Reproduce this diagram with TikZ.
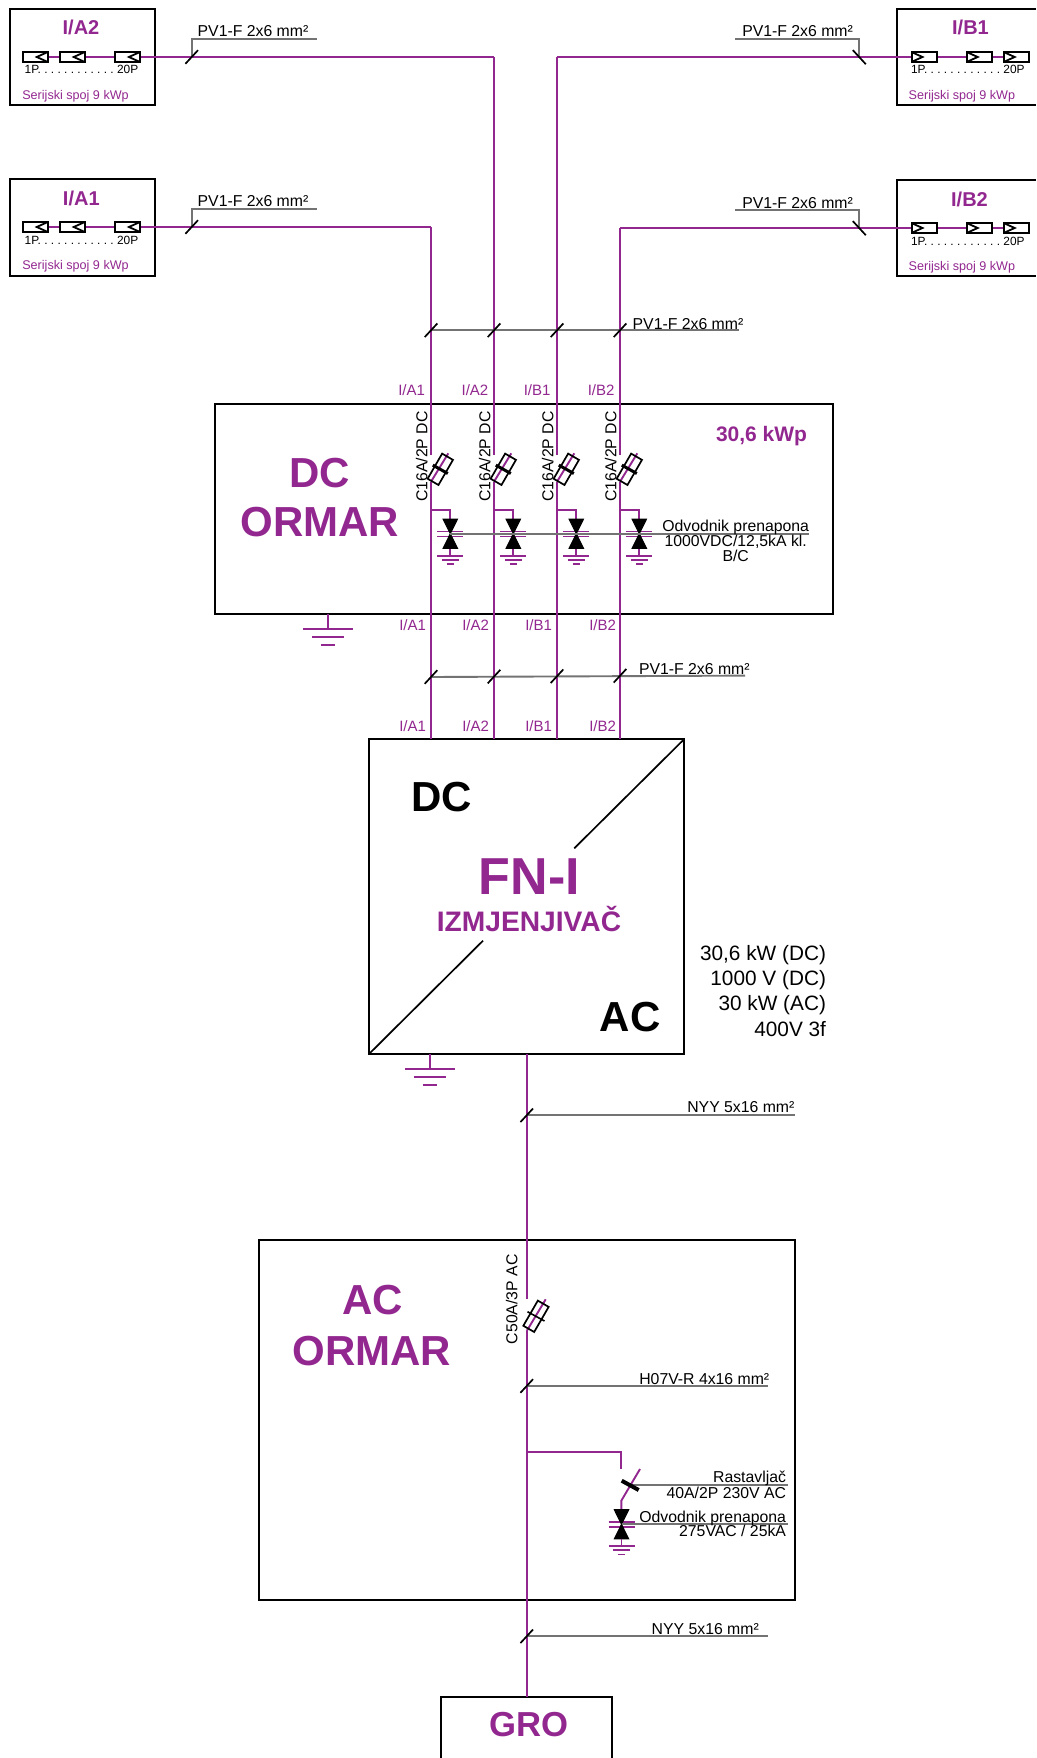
\documentclass[tikz,border=0pt]{standalone}
\usepackage{fontspec}
\setmainfont{Liberation Sans}
\definecolor{pv}{HTML}{92278F}
\definecolor{gl}{HTML}{737373}
\frenchspacing
\newcommand\fsz[1]{\fontsize{#1}{#1}\selectfont}
\tikzset{
  wire/.style={draw=pv,line width=1.9pt},
  gline/.style={draw=gl,line width=1.9pt},
  tickmark/.style={draw=black,line width=1.7pt},
  boxn/.style={draw=black,line width=2pt,inner sep=0pt,outer sep=0pt},
  panel/.style={draw=black,fill=white,line width=2pt,inner sep=0pt,outer sep=0pt,minimum width=25.3pt,minimum height=10.6pt},
  fuseb/.style={draw=black,line width=1.7pt,inner sep=0pt,outer sep=0pt,minimum width=29pt,minimum height=12.5pt,rotate=60},
  lab/.style={inner sep=0pt,outer sep=0pt,text=black,font=\fsz{15.8}},
  plab/.style={inner sep=0pt,outer sep=0pt,text=pv,font=\fsz{15}},
  ptitle/.style={inner sep=0pt,outer sep=0pt,text=pv,font=\bfseries\fsz{20}},
  big/.style={inner sep=0pt,outer sep=0pt,text=pv,font=\bfseries\fsz{42}},
  bigk/.style={inner sep=0pt,outer sep=0pt,text=black,font=\bfseries\fsz{42}},
  smalll/.style={inner sep=0pt,outer sep=0pt,text=black,font=\fsz{11.9}},
  ser/.style={inner sep=0pt,outer sep=0pt,text=pv,font=\fsz{12.6}},
}
\newcommand\boxat[5]{\node[boxn,minimum width={(#4-#2)*1pt},minimum height={(#5-#3)*1pt}] (#1) at ({(#2+#4)/2},{(#3+#5)/2}) {};}
\newcommand\tickf[1]{\draw[tickmark] ([shift={(-6.3,6.8)}]#1) -- ([shift={(6.3,-6.8)}]#1);}
\newcommand\tickb[1]{\draw[tickmark] ([shift={(-6.5,-6.9)}]#1) -- ([shift={(6.5,7.2)}]#1);}
% ground symbol: x, y of top bar, scale, line width
\newcommand\gndmark[4]{%
 \draw[draw=pv,line width=#4] ({#1-25*#3},#2) -- ({#1+25*#3},#2);
 \draw[draw=pv,line width=#4] ({#1-15.8*#3},{#2+8*#3}) -- ({#1+15.8*#3},{#2+8*#3});
 \draw[draw=pv,line width=#4] ({#1-7.2*#3},{#2+16*#3}) -- ({#1+7.2*#3},{#2+16*#3});}
% arrester: x centre, y mid
\newcommand\arrester[2]{%
 \draw[draw=pv,line width=1.8pt] ({#1-13},{#2-2.3}) -- ({#1+13},{#2-2.3});
 \draw[draw=pv,line width=1.8pt] ({#1-13},{#2+2.7}) -- ({#1+13},{#2+2.7});
 \filldraw[black,line width=1pt,miter limit=2] ({#1-7.2},{#2-14.6}) -- ({#1+7.2},{#2-14.6}) -- (#1,#2) -- cycle;
 \filldraw[black,line width=1pt,miter limit=2] ({#1-7.2},{#2+14.6}) -- ({#1+7.2},{#2+14.6}) -- (#1,#2) -- cycle;}
\begin{document}
\begin{tikzpicture}[x=1pt,y=-1pt]
\useasboundingbox (0,0) rectangle (1036,1758);
% ---- main boxes
\boxat{ia2}{10}{9.5}{155}{105.5}
\boxat{ia1}{10}{179}{155}{275.5}
\boxat{dcbox}{215}{403.5}{833}{614.3}
\boxat{fnbox}{369}{739}{684.3}{1054}
\boxat{acbox}{259}{1240}{794.7}{1600}
\draw[draw=black,line width=2pt] (1036,9.5) -- (896.5,9.5) -- (896.5,105.5) -- (1036,105.5);
\draw[draw=black,line width=2pt] (1036,180) -- (896.5,180) -- (896.5,276) -- (1036,276);
\draw[draw=black,line width=2pt] (441,1758) -- (441,1697.3) -- (612.3,1697.3) -- (612.3,1758);
\coordinate (grotop) at (526.7,1697.3);
% ---- inverter diagonals
\draw[draw=black,line width=1.7pt] (fnbox.north east) -- (574.3,848.3);
\draw[draw=black,line width=1.7pt] (fnbox.south west) -- (483,940.7);
% ---- strings: wires first
\coordinate (wa1) at (431,227);\coordinate (wa2) at (494,57);\coordinate (wb1) at (557,57);\coordinate (wb2) at (620,228);
\draw[wire] (35.3,57) -- (wa2);
\draw[wire] (35.3,227) -- (wa1);
\draw[wire] (wb1) -- (1016,57);
\draw[wire] (wb2) -- (1016,228);
% panels A
\foreach \y/\k in {57/a,227/b}{
  \node[panel] (p\k1) at (35.3,\y) {};
  \node[panel] (p\k2) at (72.3,\y) {};
  \node[panel] (p\k3) at (127.5,\y) {};
  \foreach \x in {46.7,83.7,138.9}{
    \draw[draw=black,line width=1.8pt] (\x,\y-4.5) -- (\x-10,\y) -- (\x,\y+4.5);
  }
}
% panels B
\foreach \y/\k in {57/c,228/d}{
  \node[panel] (p\k1) at (924.2,\y) {};
  \node[panel] (p\k2) at (979.4,\y) {};
  \node[panel] (p\k3) at (1016.4,\y) {};
  \foreach \x in {912.5,967.7,1004.7}{
    \draw[draw=black,line width=1.8pt] (\x,\y-4.5) -- (\x+10,\y) -- (\x,\y+4.5);
  }
}
% string box texts
\node[ptitle,anchor=base] (tia2) at (81,35) {I/A2};
\node[ptitle,anchor=base] (tia1) at (81.3,205) {I/A1};
\node[ptitle,anchor=base] (tib1) at (970.5,35) {I/B1};
\node[ptitle,anchor=base] (tib2) at (969.5,206) {I/B2};
\node[smalll,anchor=base west] (na2) at (24.7,74) {1P. . . . . . . . . . . . 20P};
\node[smalll,anchor=base west] (na1) at (24.7,244) {1P. . . . . . . . . . . . 20P};
\node[smalll,anchor=base west] (nb1) at (911,74) {1P. . . . . . . . . . . . 20P};
\node[smalll,anchor=base west] (nb2) at (911,245) {1P. . . . . . . . . . . . 20P};
\node[ser,anchor=base west] (sera2) at (22.3,99.3) {Serijski spoj 9 kWp};
\node[ser,anchor=base west] (sera1) at (22.3,269.3) {Serijski spoj 9 kWp};
\node[ser,anchor=base west] (serb1) at (908.7,99.3) {Serijski spoj 9 kWp};
\node[ser,anchor=base west] (serb2) at (908.7,270.7) {Serijski spoj 9 kWp};
% string cable labels
\coordinate (ta2) at (191.7,57);\coordinate (ta1) at (191.7,227);\coordinate (tb1) at (859.3,57);\coordinate (tb2) at (859.3,228);
\draw[gline] (ta2) -- (191.7,39.3) -- (316.7,39.3);
\draw[gline] (ta1) -- (191.7,209.3) -- (316.7,209.3);
\draw[gline] (tb1) -- (859.3,39.3) -- (735,39.3);
\draw[gline] (tb2) -- (859.3,210) -- (735,210);
\tickf{ta2}\tickf{ta1}\tickb{tb1}\tickb{tb2}
\node[lab,anchor=base west] (ca2) at (197.7,37) {PV1-F 2x6 mm²};
\node[lab,anchor=base west] (ca1) at (197.7,206.7) {PV1-F 2x6 mm²};
\node[lab,anchor=base west] (cb1) at (742.3,37) {PV1-F 2x6 mm²};
\node[lab,anchor=base west] (cb2) at (742.3,208) {PV1-F 2x6 mm²};
% ---- four DC circuits
\foreach \n/\x/\lt/\rtop/\rbot/\rfn in {a1/431/I\slash A1/425/426/426,a2/494/I\slash A2/488.3/489/489,b1/557/I\slash B1/550.5/552/552,b2/620/I\slash B2/614.5/616/616}{
  \coordinate (up\n) at (\x,455);
  \coordinate (low\n) at (\x,481.7);
  \draw[wire] (w\n) -- (up\n);
  \draw[wire] (low\n) -- (\x,739);
  \draw[wire] (low\n) -- (\x+17.3,453.3);
  \node[fuseb] (fu\n) at (\x+9.3,469.3) {};
  \draw[draw=black,line width=3pt] (\x+1.8,465.1) -- (\x+16.8,473.5);
  \draw[wire] (\x,509.7) -- (\x+19.3,509.7) -- (\x+19.3,519);
  \arrester{\x+19.3}{533.7}
  \draw[draw=pv,line width=1.7pt] (\x+19.3,549) -- (\x+19.3,555.7);
  \gndmark{\x+19.3}{555.7}{.52}{1.6pt}
  \node[lab,rotate=90,anchor=base west] (cl\n) at (\x-3.6,501.7) {C16A/2P DC};
  \node[plab,anchor=base east] (lt\n) at (\rtop,395.5) {\lt};
  \node[plab,anchor=base east] (lm\n) at (\rbot,630.7) {\lt};
  \node[plab,anchor=base east] (lb\n) at (\rfn,731.7) {\lt};
}
% buses
\coordinate (busA) at (431,330.3);\coordinate (busB) at (494,330.3);\coordinate (busC) at (557,330.3);\coordinate (busD) at (620,330.3);
\draw[gline] (busA) -- (739.3,330.3);
\tickf{busA}\tickf{busB}\tickf{busC}\tickf{busD}
\node[lab,anchor=base west] (cbus) at (632.7,329) {PV1-F 2x6 mm²};
\coordinate (busE) at (431,677);\coordinate (busF) at (494,676.6);\coordinate (busG) at (557,676.2);\coordinate (busH) at (620,675.8);
\draw[gline] (busE) -- (745,675.6);
\tickf{busE}\tickf{busF}\tickf{busG}\tickf{busH}
\node[lab,anchor=base west] (cbus2) at (639,674) {PV1-F 2x6 mm²};
% surge gray line & text
\coordinate (sgA) at (450.3,533.7);
\draw[gline] (sgA) -- (809,533.7);
\node[lab,anchor=base] (od1) at (735.7,531) {Odvodnik prenapona};
\node[lab,anchor=base] (od2) at (735.7,546) {1000VDC/12,5kA kl.};
\node[lab,anchor=base] (od3) at (735.7,561.7) {B/C};
\node[ptitle,anchor=base west,font=\bfseries\fsz{21}] (kwp) at (716,441.7) {30,6 kWp};
\node[big,anchor=base] (dc1) at (320,487) {DC};
\node[big,anchor=base] (dc2) at (320,536.7) {ORMAR};
% DC box ground
\coordinate (g1) at (328,629.3);
\draw[draw=pv,line width=1.7pt] (dcbox.south -| g1) -- (g1);
\gndmark{328}{629.3}{1}{1.7pt}
% inverter
\node[bigk,anchor=base] (idc) at (441.7,811.7) {DC};
\node[bigk,anchor=base] (iac) at (630,1031.7) {AC};
\node[big,anchor=base,font=\bfseries\fsz{52}] (fn) at (529.5,894) {FN-I};
\node[big,anchor=base,font=\bfseries\fsz{28.2}] (izm) at (529,931.7) {IZMJENJIVAČ};
\coordinate (g2) at (430,1068.7);
\draw[draw=pv,line width=1.7pt] (fnbox.south -| g2) -- (g2);
\gndmark{430}{1068.7}{1}{1.7pt}
\node[lab,anchor=base east,font=\fsz{20.8}] (s1) at (826,960.7) {30,6 kW (DC)};
\node[lab,anchor=base east,font=\fsz{20.8}] (s2) at (826,985.5) {1000 V (DC)};
\node[lab,anchor=base east,font=\fsz{20.8}] (s3) at (826,1010.7) {30 kW (AC)};
\node[lab,anchor=base east,font=\fsz{20.8}] (s4) at (826,1036) {400V 3f};
% AC line
\coordinate (acup) at (526.7,1299);
\coordinate (aclow) at (526.7,1331);
\draw[wire] (fnbox.south -| acup) -- (acup);
\draw[wire] (aclow) -- (grotop);
\draw[wire] (aclow) -- (545.7,1299.3);
\node[fuseb] (fuac) at (536,1316.3) {};
\draw[draw=black,line width=1.6pt] (527.5,1311.7) -- (544.5,1321);
\node[lab,rotate=90,anchor=base west] (clac) at (517.3,1344) {C50A/3P AC};
\node[big,anchor=base] (ac1) at (372.5,1314) {AC};
\node[big,anchor=base] (ac2) at (372,1365) {ORMAR};
% AC cable labels
\coordinate (t1) at (526.7,1115.3);\coordinate (t2) at (526.7,1386);\coordinate (t3) at (526.7,1636.3);
\draw[gline] (t1) -- (795,1115.3);
\draw[gline] (t2) -- (767.7,1386);
\draw[gline] (t3) -- (768.3,1636.3);
\tickf{t1}\tickf{t2}\tickf{t3}
\node[lab,anchor=base west] (n1) at (687.3,1112.7) {NYY 5x16 mm²};
\node[lab,anchor=base west] (n2) at (639.3,1384.3) {H07V-R 4x16 mm²};
\node[lab,anchor=base west] (n3) at (651.7,1634.3) {NYY 5x16 mm²};
% switch & arrester
\coordinate (br) at (526.7,1451.7);
\draw[wire] (br) -- (621.3,1451.7) -- (621.3,1469.3);
\draw[wire] (621.3,1509.3) -- (621.3,1500.7) -- (640,1469);
\draw[gline] (631,1485.3) -- (787.7,1485.3);
\draw[draw=black,line width=4pt] (621.7,1480.7) -- (638.7,1490);
\arrester{621.5}{1524.3}
\draw[draw=pv,line width=1.7pt] (621.5,1539) -- (621.5,1546);
\gndmark{621.5}{1546}{.52}{1.6pt}
\draw[gline] (621.5,1524.3) -- (787.7,1524.3);
\node[lab,anchor=base east] (r1) at (786,1482.7) {Rastavljač};
\node[lab,anchor=base east] (r2) at (786,1498.7) {40A/2P 230V AC};
\node[lab,anchor=base east] (r3) at (786,1522) {Odvodnik prenapona};
\node[lab,anchor=base east] (r4) at (786,1536.7) {275VAC / 25kA};
% GRO
\node[big,anchor=base,font=\bfseries\fsz{34.7}] (gro) at (528.8,1736.7) {GRO};
\end{tikzpicture}
\end{document}
